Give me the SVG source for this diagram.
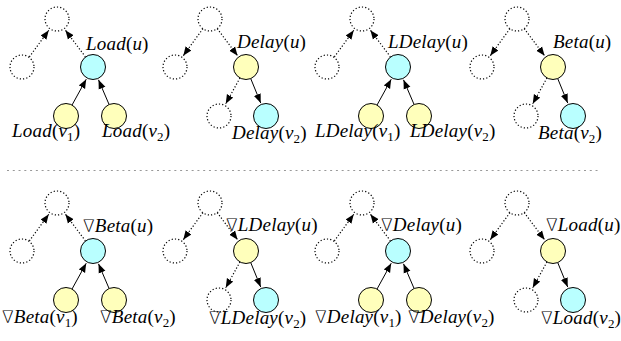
<svg xmlns="http://www.w3.org/2000/svg" width="621" height="341" viewBox="0 0 621 341">
<defs>
<style>
.sol{fill:none;stroke:#000;stroke-width:1;marker-end:url(#ah)}
.dot{fill:none;stroke:#000;stroke-width:1.2;stroke-dasharray:1.2 2;marker-end:url(#ah)}
.ghost{fill:none;stroke:#000;stroke-width:1.2;stroke-dasharray:1.2 2.1}
.cy{fill:#b9ffff;stroke:#000;stroke-width:1}
.ye{fill:#ffffbb;stroke:#000;stroke-width:1}
text{font-family:"Liberation Serif","DejaVu Serif",serif;font-size:19px;font-style:italic;letter-spacing:0.2px;fill:#000}
.n{font-style:normal}
.s{font-style:normal;font-size:13px}
.g{font-family:"DejaVu Sans","DejaVu Serif",sans-serif;font-weight:200;font-style:normal;font-size:17px}
</style>
<marker id="ah" viewBox="-9 -4 10 8" refX="0" refY="0" markerWidth="10" markerHeight="8" markerUnits="userSpaceOnUse" orient="auto">
<path d="M-9,-3.6 L0,0 L-9,3.6 z" fill="#000" stroke="none"/>
</marker>
</defs>
<rect width="621" height="341" fill="#fff"/>

<g id="separator"><line x1="7" y1="170.5" x2="600" y2="170.5" stroke="#999" stroke-width="1.2" stroke-dasharray="2 3.77"/></g>

<!-- Panel 1: Load (upward) -->
<g id="panel1" transform="translate(57,19)">
 <g id="p1-edges">
  <line class="sol" x1="15.03" y1="86.05" x2="29.24" y2="60.26"/>
  <line class="sol" x1="52.08" y1="85.51" x2="41.51" y2="60.87"/>
  <line class="dot" x1="28.5" y1="38" x2="8.4" y2="11.2"/>
  <line class="dot" x1="-27.64" y1="37.9" x2="-8.25" y2="11.31"/>
 </g>
 <g id="p1-parent"><circle class="ghost" cx="0" cy="0" r="12"/></g>
 <g id="p1-sibling"><circle class="ghost" cx="-35" cy="48" r="12"/></g>
 <g id="p1-u"><circle class="cy" cx="36" cy="48" r="12.5"/><text x="29" y="31">Load<tspan class="n">(</tspan>u<tspan class="n">)</tspan></text></g>
 <g id="p1-v1"><circle class="ye" cx="9" cy="97" r="12.5"/><text x="-45" y="118">Load<tspan class="n">(</tspan>v<tspan class="s" dy="3.5">1</tspan><tspan class="n" dy="-3.5">)</tspan></text></g>
 <g id="p1-v2"><circle class="ye" cx="57" cy="97" r="12.5"/><text x="45" y="118">Load<tspan class="n">(</tspan>v<tspan class="s" dy="3.5">2</tspan><tspan class="n" dy="-3.5">)</tspan></text></g>
</g>

<!-- Panel 2: Delay (downward) -->
<g id="panel2" transform="translate(210,19)">
 <g id="p2-edges">
  <line class="dot" x1="-7.07" y1="9.7" x2="-26.75" y2="36.69"/>
  <line class="dot" x1="7.2" y1="9.6" x2="27.6" y2="36.8"/>
  <line class="dot" x1="29.97" y1="58.95" x2="15.76" y2="84.74"/>
  <line class="sol" x1="40.72" y1="59.57" x2="50.71" y2="84.04"/>
 </g>
 <g id="p2-parent"><circle class="ghost" cx="0" cy="0" r="12"/></g>
 <g id="p2-sibling"><circle class="ghost" cx="-35" cy="48" r="12"/></g>
 <g id="p2-u"><circle class="ye" cx="36" cy="48" r="12.5"/><text x="27" y="29">Delay<tspan class="n">(</tspan>u<tspan class="n">)</tspan></text></g>
 <g id="p2-v1"><circle class="ghost" cx="9" cy="97" r="12"/></g>
 <g id="p2-v2"><circle class="cy" cx="56" cy="97" r="12.5"/><text x="22" y="120">Delay<tspan class="n">(</tspan>v<tspan class="s" dy="3.5">2</tspan><tspan class="n" dy="-3.5">)</tspan></text></g>
</g>

<!-- Panel 3: LDelay (upward) -->
<g id="panel3" transform="translate(362,19)">
 <g id="p3-edges">
  <line class="sol" x1="15.03" y1="86.05" x2="29.24" y2="60.26"/>
  <line class="sol" x1="52.08" y1="85.51" x2="41.51" y2="60.87"/>
  <line class="dot" x1="28.5" y1="38" x2="8.4" y2="11.2"/>
  <line class="dot" x1="-27.64" y1="37.9" x2="-8.25" y2="11.31"/>
 </g>
 <g id="p3-parent"><circle class="ghost" cx="0" cy="0" r="12"/></g>
 <g id="p3-sibling"><circle class="ghost" cx="-35" cy="48" r="12"/></g>
 <g id="p3-u"><circle class="cy" cx="36" cy="48" r="12.5"/><text x="26" y="29">LDelay<tspan class="n">(</tspan>u<tspan class="n">)</tspan></text></g>
 <g id="p3-v1"><circle class="ye" cx="9" cy="97" r="12.5"/><text x="-47" y="118">LDelay<tspan class="n">(</tspan>v<tspan class="s" dy="3.5">1</tspan><tspan class="n" dy="-3.5">)</tspan></text></g>
 <g id="p3-v2"><circle class="ye" cx="57" cy="97" r="12.5"/><text x="48" y="118">LDelay<tspan class="n">(</tspan>v<tspan class="s" dy="3.5">2</tspan><tspan class="n" dy="-3.5">)</tspan></text></g>
</g>

<!-- Panel 4: Beta (downward) -->
<g id="panel4" transform="translate(517,19)">
 <g id="p4-edges">
  <line class="dot" x1="-7.07" y1="9.7" x2="-26.75" y2="36.69"/>
  <line class="dot" x1="7.2" y1="9.6" x2="27.6" y2="36.8"/>
  <line class="dot" x1="29.97" y1="58.95" x2="15.76" y2="84.74"/>
  <line class="sol" x1="40.72" y1="59.57" x2="50.71" y2="84.04"/>
 </g>
 <g id="p4-parent"><circle class="ghost" cx="0" cy="0" r="12"/></g>
 <g id="p4-sibling"><circle class="ghost" cx="-35" cy="48" r="12"/></g>
 <g id="p4-u"><circle class="ye" cx="36" cy="48" r="12.5"/><text x="36" y="29">Beta<tspan class="n">(</tspan>u<tspan class="n">)</tspan></text></g>
 <g id="p4-v1"><circle class="ghost" cx="9" cy="97" r="12"/></g>
 <g id="p4-v2"><circle class="cy" cx="56" cy="97" r="12.5"/><text x="21" y="120">Beta<tspan class="n">(</tspan>v<tspan class="s" dy="3.5">2</tspan><tspan class="n" dy="-3.5">)</tspan></text></g>
</g>

<!-- Panel 5: grad Beta (upward) -->
<g id="panel5" transform="translate(57,203)">
 <g id="p5-edges">
  <line class="sol" x1="15.03" y1="86.05" x2="29.24" y2="60.26"/>
  <line class="sol" x1="52.08" y1="85.51" x2="41.51" y2="60.87"/>
  <line class="dot" x1="28.5" y1="38" x2="8.4" y2="11.2"/>
  <line class="dot" x1="-27.64" y1="37.9" x2="-8.25" y2="11.31"/>
 </g>
 <g id="p5-parent"><circle class="ghost" cx="0" cy="0" r="12"/></g>
 <g id="p5-sibling"><circle class="ghost" cx="-35" cy="48" r="12"/></g>
 <g id="p5-u"><circle class="cy" cx="36" cy="48" r="12.5"/><text x="26" y="29"><tspan class="g">∇</tspan>Beta<tspan class="n">(</tspan>u<tspan class="n">)</tspan></text></g>
 <g id="p5-v1"><circle class="ye" cx="9" cy="97" r="12.5"/><text x="-55" y="120"><tspan class="g">∇</tspan>Beta<tspan class="n">(</tspan>v<tspan class="s" dy="3.5">1</tspan><tspan class="n" dy="-3.5">)</tspan></text></g>
 <g id="p5-v2"><circle class="ye" cx="57" cy="97" r="12.5"/><text x="43" y="120"><tspan class="g">∇</tspan>Beta<tspan class="n">(</tspan>v<tspan class="s" dy="3.5">2</tspan><tspan class="n" dy="-3.5">)</tspan></text></g>
</g>

<!-- Panel 6: grad LDelay (downward) -->
<g id="panel6" transform="translate(210,203)">
 <g id="p6-edges">
  <line class="dot" x1="-7.07" y1="9.7" x2="-26.75" y2="36.69"/>
  <line class="dot" x1="7.2" y1="9.6" x2="27.6" y2="36.8"/>
  <line class="dot" x1="29.97" y1="58.95" x2="15.76" y2="84.74"/>
  <line class="sol" x1="40.72" y1="59.57" x2="50.71" y2="84.04"/>
 </g>
 <g id="p6-parent"><circle class="ghost" cx="0" cy="0" r="12"/></g>
 <g id="p6-sibling"><circle class="ghost" cx="-35" cy="48" r="12"/></g>
 <g id="p6-u"><circle class="ye" cx="36" cy="48" r="12.5"/><text x="16" y="28"><tspan class="g">∇</tspan>LDelay<tspan class="n">(</tspan>u<tspan class="n">)</tspan></text></g>
 <g id="p6-v1"><circle class="ghost" cx="9" cy="97" r="12"/></g>
 <g id="p6-v2"><circle class="cy" cx="56" cy="97" r="12.5"/><text x="-1" y="121"><tspan class="g">∇</tspan>LDelay<tspan class="n">(</tspan>v<tspan class="s" dy="3.5">2</tspan><tspan class="n" dy="-3.5">)</tspan></text></g>
</g>

<!-- Panel 7: grad Delay (upward) -->
<g id="panel7" transform="translate(362,203)">
 <g id="p7-edges">
  <line class="sol" x1="15.03" y1="86.05" x2="29.24" y2="60.26"/>
  <line class="sol" x1="52.08" y1="85.51" x2="41.51" y2="60.87"/>
  <line class="dot" x1="28.5" y1="38" x2="8.4" y2="11.2"/>
  <line class="dot" x1="-27.64" y1="37.9" x2="-8.25" y2="11.31"/>
 </g>
 <g id="p7-parent"><circle class="ghost" cx="0" cy="0" r="12"/></g>
 <g id="p7-sibling"><circle class="ghost" cx="-35" cy="48" r="12"/></g>
 <g id="p7-u"><circle class="cy" cx="36" cy="48" r="12.5"/><text x="19" y="28"><tspan class="g">∇</tspan>Delay<tspan class="n">(</tspan>u<tspan class="n">)</tspan></text></g>
 <g id="p7-v1"><circle class="ye" cx="9" cy="97" r="12.5"/><text x="-47" y="120"><tspan class="g">∇</tspan>Delay<tspan class="n">(</tspan>v<tspan class="s" dy="3.5">1</tspan><tspan class="n" dy="-3.5">)</tspan></text></g>
 <g id="p7-v2"><circle class="ye" cx="57" cy="97" r="12.5"/><text x="46" y="120"><tspan class="g">∇</tspan>Delay<tspan class="n">(</tspan>v<tspan class="s" dy="3.5">2</tspan><tspan class="n" dy="-3.5">)</tspan></text></g>
</g>

<!-- Panel 8: grad Load (downward) -->
<g id="panel8" transform="translate(517,203)">
 <g id="p8-edges">
  <line class="dot" x1="-7.07" y1="9.7" x2="-26.75" y2="36.69"/>
  <line class="dot" x1="7.2" y1="9.6" x2="27.6" y2="36.8"/>
  <line class="dot" x1="29.97" y1="58.95" x2="15.76" y2="84.74"/>
  <line class="sol" x1="40.72" y1="59.57" x2="50.71" y2="84.04"/>
 </g>
 <g id="p8-parent"><circle class="ghost" cx="0" cy="0" r="12"/></g>
 <g id="p8-sibling"><circle class="ghost" cx="-35" cy="48" r="12"/></g>
 <g id="p8-u"><circle class="ye" cx="36" cy="48" r="12.5"/><text x="29" y="28"><tspan class="g">∇</tspan>Load<tspan class="n">(</tspan>u<tspan class="n">)</tspan></text></g>
 <g id="p8-v1"><circle class="ghost" cx="9" cy="97" r="12"/></g>
 <g id="p8-v2"><circle class="cy" cx="56" cy="97" r="12.5"/><text x="24" y="121"><tspan class="g">∇</tspan>Load<tspan class="n">(</tspan>v<tspan class="s" dy="3.5">2</tspan><tspan class="n" dy="-3.5">)</tspan></text></g>
</g>
</svg>
